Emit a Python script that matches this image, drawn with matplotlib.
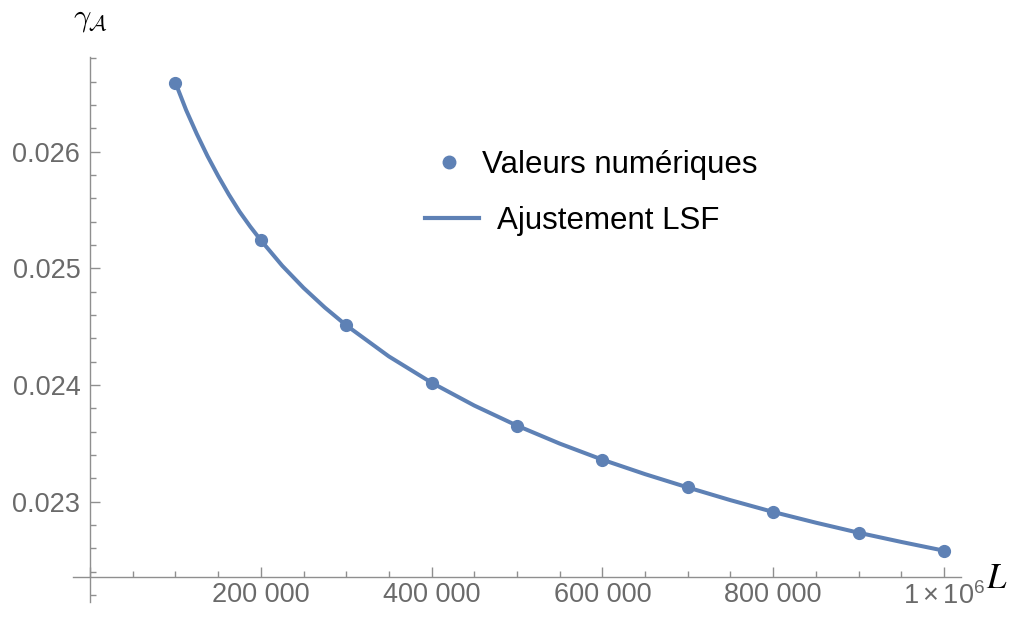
import numpy as np
import matplotlib
matplotlib.use('Agg')
import matplotlib.pyplot as plt
from matplotlib.ticker import MultipleLocator, FuncFormatter
from matplotlib.lines import Line2D

plt.rcParams['font.family'] = ['Liberation Sans', 'DejaVu Sans']
plt.rcParams['mathtext.fontset'] = 'custom'
plt.rcParams['mathtext.rm'] = 'Liberation Sans'
plt.rcParams['mathtext.it'] = 'Liberation Sans:italic'

# numerical values
L_vals = [100000, 200000, 300000, 400000, 500000, 600000, 700000, 800000, 900000, 1000000]
gamma_vals = [0.026591, 0.025241, 0.024512, 0.024020, 0.023652,
              0.023360, 0.023122, 0.022912, 0.022734, 0.022580]

# fitted curve
fit_L = [100000, 112500, 125000, 137500, 150000, 162500, 175000, 187500,
         200000, 225000, 250000, 275000, 300000, 350000, 400000, 450000,
         500000, 550000, 600000, 650000, 700000, 750000, 800000, 850000,
         900000, 950000, 1000000]
fit_gamma = [0.026591, 0.026357, 0.026152, 0.025963, 0.025792, 0.025633, 0.025487, 0.025359,
             0.025241, 0.025023, 0.024833, 0.024664, 0.024512, 0.024245, 0.024020, 0.023824,
             0.023652, 0.023498, 0.023360, 0.023236, 0.023122, 0.023013, 0.022912, 0.022820,
             0.022734, 0.022655, 0.022580]

blue = '#5e81b5'
axis_col = '#8f8f8f'
label_col = '#6a6a6a'

fig = plt.figure(figsize=(10.13, 6.24), dpi=100)
ax = fig.add_axes([73 / 1013, 1 - 602 / 624, (961 - 73) / 1013, (602 - 57) / 624])

ax.plot(fit_L, fit_gamma, color=blue, lw=2.9, solid_capstyle='round', solid_joinstyle='round')
ax.plot(L_vals, gamma_vals, 'o', color=blue, ms=8.5)

ax.set_xlim(-20000, 1020000)
ax.set_ylim(0.022140, 0.026812)

y_cross = 0.022357
ax.spines['left'].set_position(('data', 0))
ax.spines['bottom'].set_position(('data', y_cross))
ax.spines['right'].set_visible(False)
ax.spines['top'].set_visible(False)
for s in ('left', 'bottom'):
    ax.spines[s].set_color(axis_col)
    ax.spines[s].set_linewidth(1.0)

ax.xaxis.set_major_locator(MultipleLocator(200000))
ax.xaxis.set_minor_locator(MultipleLocator(50000))
ax.yaxis.set_major_locator(MultipleLocator(0.001))
ax.yaxis.set_minor_locator(MultipleLocator(0.0002))


def xfmt(v, pos):
    if v <= 0:
        return ''
    if abs(v - 1e6) < 1:
        return r'$1\times10^{6}$'
    s = f'{int(round(v)):,}'.replace(',', ' ')
    return s


ax.xaxis.set_major_formatter(FuncFormatter(xfmt))
ax.yaxis.set_major_formatter(FuncFormatter(lambda v, p: f'{v:.3f}'))

ax.tick_params(which='both', direction='in', color=axis_col, width=1.0)
ax.tick_params(which='major', length=7.5, labelsize=19.5, labelcolor=label_col)
ax.tick_params(which='minor', length=4)
ax.tick_params(axis='x', which='major', pad=4)
ax.tick_params(axis='y', which='major', pad=7)

# axis labels
fig.text(90 / 1013, 1 - 19 / 624, r'$\gamma_{\mathcal{A}}$', math_fontfamily='cm',
         fontsize=22, ha='center', va='center')
fig.text(997 / 1013, 1 - 578 / 624, r'$L$', math_fontfamily='stix',
         fontsize=25, ha='center', va='center')

# legend
pt_handle = Line2D([], [], marker='o', ls='none', color=blue, ms=9)
ln_handle = Line2D([], [], color=blue, lw=3.0)
fig.legend([pt_handle], ['Valeurs numériques'], loc='center left',
           bbox_to_anchor=(433.4 / 1013, 1 - 165 / 624), frameon=False,
           fontsize=22.5, handlelength=1.0, handletextpad=0.555,
           borderpad=0, borderaxespad=0)
fig.legend([ln_handle], ['Ajustement LSF'], loc='center left',
           bbox_to_anchor=(425 / 1013, 1 - 221 / 624), frameon=False,
           fontsize=22.5, handlelength=1.728, handletextpad=0.576,
           borderpad=0, borderaxespad=0)

fig.savefig('out.png', dpi=100)
